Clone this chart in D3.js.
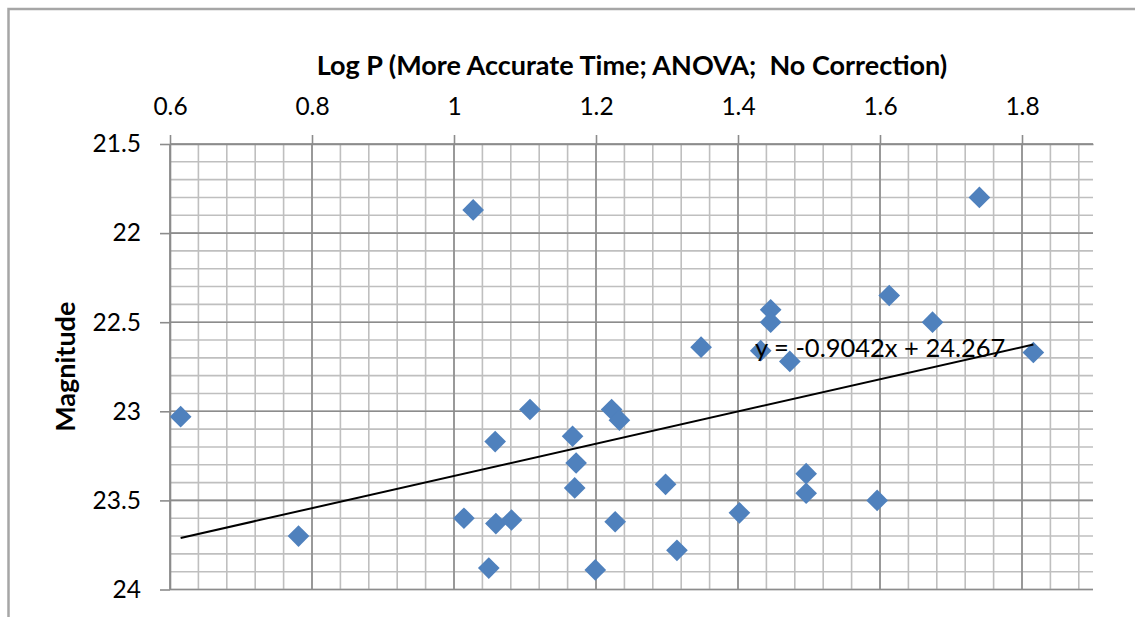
<!DOCTYPE html>
<html>
<head>
<meta charset="utf-8">
<script src="https://cdn.jsdelivr.net/npm/d3@7"></script>
<style>
  html, body { margin: 0; padding: 0; background: #fff; }
  svg { display: block; }
  text { font-family: Lato, "Open Sans", sans-serif; fill: #000; white-space: pre; }
</style>
</head>
<body>
<svg id="chart" width="1135" height="617"></svg>
<script>
// Period (log P) vs. magnitude for the sample
const logP = [
  0.615, 0.781, 1.027, 1.740, 1.613, 1.674, 1.446, 1.446, 1.348, 1.432,
  1.473, 1.816, 1.107, 1.222, 1.233, 1.167, 1.058, 1.172, 1.170, 1.298,
  1.496, 1.496, 1.596, 1.402, 1.014, 1.059, 1.081, 1.227, 1.314, 1.049,
  1.199
];
const magnitude = [
  23.03, 23.70, 21.87, 21.80, 22.35, 22.50, 22.43, 22.50, 22.64, 22.66,
  22.72, 22.67, 22.99, 22.99, 23.05, 23.14, 23.17, 23.29, 23.43, 23.41,
  23.35, 23.46, 23.50, 23.57, 23.60, 23.63, 23.61, 23.62, 23.78, 23.88,
  23.89
];

// Linear trend fitted to the points
const trendSlope = -0.9042;
const trendIntercept = 24.267;

const xTicks = [0.6, 0.8, 1.0, 1.2, 1.4, 1.6, 1.8];
const yTicks = [21.5, 22, 22.5, 23, 23.5, 24];
const xDomain = [0.6, 1.9];
const yDomain = [21.5, 24];
const xMinorStep = 0.04;
const yMinorStep = 0.1;

const titleText = "Log P (More Accurate Time; ANOVA;  No Correction)";
const yTitleText = "Magnitude";

const svg = d3.select("#chart");

// Outer chart frame
svg.append("rect")
  .attr("x", 8.5).attr("y", 9)
  .attr("width", 1140).attr("height", 640)
  .attr("fill", "none")
  .attr("stroke", "#a6a6a6")
  .attr("stroke-width", 2.5);

const plot = { left: 170, right: 1093, top: 144, bottom: 589.5 };

const x = d3.scaleLinear().domain(xDomain).range([plot.left, plot.right]);
// Magnitude runs downward: brighter values at the top
const y = d3.scaleLinear().domain(yDomain).range([plot.top, plot.bottom]);

const fmt = d => String(+d.toFixed(2));

// Minor gridlines
const xMinor = d3.range(0, Math.round((xDomain[1] - xDomain[0]) / xMinorStep) + 0.5)
  .map(i => +(xDomain[0] + i * xMinorStep).toFixed(4))
  .filter(v => v < xDomain[1] - 1e-9);
const yMinor = d3.range(0, Math.round((yDomain[1] - yDomain[0]) / yMinorStep) + 1)
  .map(i => +(yDomain[0] + i * yMinorStep).toFixed(4));

const grid = svg.append("g");
grid.selectAll("line.vminor").data(xMinor).join("line")
  .attr("x1", d => x(d)).attr("x2", d => x(d))
  .attr("y1", plot.top).attr("y2", plot.bottom)
  .attr("stroke", "#bfbfbf").attr("stroke-width", 1.6);
grid.selectAll("line.hminor").data(yMinor).join("line")
  .attr("x1", plot.left).attr("x2", plot.right)
  .attr("y1", d => y(d)).attr("y2", d => y(d))
  .attr("stroke", "#bfbfbf").attr("stroke-width", 1.6);

// Major gridlines
grid.selectAll("line.vmajor").data(xTicks).join("line")
  .attr("x1", d => x(d)).attr("x2", d => x(d))
  .attr("y1", plot.top).attr("y2", plot.bottom)
  .attr("stroke", "#8c8c8c").attr("stroke-width", 1.6);
grid.selectAll("line.hmajor").data(yTicks).join("line")
  .attr("x1", plot.left).attr("x2", plot.right)
  .attr("y1", d => y(d)).attr("y2", d => y(d))
  .attr("stroke", "#8c8c8c").attr("stroke-width", 1.6);

// Top axis (log P)
const xAxis = d3.axisTop(x).tickValues(xTicks).tickFormat(fmt)
  .tickSizeInner(9).tickSizeOuter(0).tickPadding(20);
const gx = svg.append("g").attr("transform", `translate(0,${plot.top})`).call(xAxis);
gx.select(".domain").attr("stroke", "#8c8c8c").attr("stroke-width", 1.6);
gx.selectAll(".tick line").attr("stroke", "#8c8c8c").attr("stroke-width", 1.6);
gx.selectAll(".tick text").attr("font-size", 24.5).attr("fill", "#000")
  .style("font-family", "Lato, 'Open Sans', sans-serif");

// Left axis (magnitude)
const yAxis = d3.axisLeft(y).tickValues(yTicks).tickFormat(fmt)
  .tickSizeInner(10).tickSizeOuter(0).tickPadding(19);
const gy = svg.append("g").attr("transform", `translate(${plot.left},0)`).call(yAxis);
gy.select(".domain").attr("stroke", "#8c8c8c").attr("stroke-width", 1.6);
gy.selectAll(".tick line").attr("stroke", "#8c8c8c").attr("stroke-width", 1.6);
gy.selectAll(".tick text").attr("font-size", 24.5).attr("fill", "#000")
  .style("font-family", "Lato, 'Open Sans', sans-serif");

// Titles
svg.append("text")
  .attr("x", 632).attr("y", 75)
  .attr("text-anchor", "middle")
  .attr("font-size", 27).attr("font-weight", "bold")
  .text(titleText);

svg.append("text")
  .attr("transform", `translate(75,${(plot.top + plot.bottom) / 2}) rotate(-90)`)
  .attr("text-anchor", "middle")
  .attr("font-size", 27).attr("font-weight", "bold")
  .text(yTitleText);

// Data points as diamonds
const points = logP.map((v, i) => ({ x: v, y: magnitude[i] }));
const diamond = d3.symbol().type(d3.symbolSquare).size(235);
svg.append("g").selectAll("path").data(points).join("path")
  .attr("d", diamond)
  .attr("transform", d => `translate(${x(d.x)},${y(d.y)}) rotate(45)`)
  .attr("fill", "#4f81bd");

// Trend line across the data range
const [xMin, xMax] = d3.extent(logP);
const trend = [xMin, xMax].map(v => ({ x: v, y: trendSlope * v + trendIntercept }));
svg.append("line")
  .attr("x1", x(trend[0].x)).attr("y1", y(trend[0].y))
  .attr("x2", x(trend[1].x)).attr("y2", y(trend[1].y))
  .attr("stroke", "#000").attr("stroke-width", 2);

// Trend equation label
svg.append("text")
  .attr("x", x(trend[1].x) - 28).attr("y", y(trend[1].y) + 13)
  .attr("text-anchor", "end")
  .attr("font-size", 25.5)
  .text(`y = ${trendSlope}x + ${trendIntercept}`);
</script>
</body>
</html>
